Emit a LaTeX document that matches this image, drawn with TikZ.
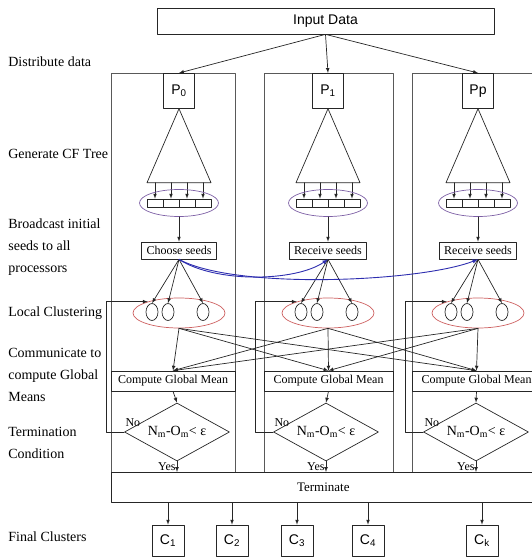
\documentclass[tikz,border=0pt]{standalone}
\usepackage{fontspec}
\setmainfont{Liberation Serif}
\setsansfont{Liberation Sans}
\usetikzlibrary{shapes.geometric, positioning}
\tikzset{>=latex}
\definecolor{treeviolet}{RGB}{125,95,165}
\definecolor{clustred}{RGB}{205,95,95}
\definecolor{seedblue}{RGB}{45,45,175}
\tikzset{
	steplabel/.style={anchor=west, inner sep=0pt, align=left, font=\fontsize{14}{22}\selectfont},
	procbox/.style={draw, anchor=north, minimum width=31, minimum height=35, inner sep=0pt, font=\sffamily\fontsize{14}{16}\selectfont},
	leafcell/.style={draw, minimum width=16, minimum height=8, inner sep=0pt},
	leafset/.style={draw=treeviolet, ellipse, minimum width=79, minimum height=27, inner sep=0pt},
	seedbox/.style={draw, minimum height=17, inner sep=0pt, inner xsep=5pt, font=\fontsize{12}{14}\selectfont},
	clustset/.style={draw=clustred, ellipse, minimum width=92, minimum height=30, inner sep=0pt},
	centroid/.style={draw, ellipse, minimum width=12, minimum height=17, inner sep=0pt},
	meanbox/.style={draw, minimum height=20, inner sep=0pt, font=\fontsize{12}{14}\selectfont},
	testbox/.style={draw, diamond, aspect=1.8, minimum width=105, minimum height=58, inner sep=0pt, font=\fontsize{14}{16}\selectfont},
	flowtext/.style={inner sep=1pt, font=\fontsize{12}{14}\selectfont},
	finalbox/.style={draw, minimum width=32, minimum height=31, inner sep=0pt, font=\sffamily\fontsize{14}{16}\selectfont},
	colline/.style={draw=black!65}
}
\newcommand{\proccol}[6]{%
	% column frame
	\draw[colline] (#2,73) rectangle (#3,472);
	% processor and CF tree
	\node[procbox] (p#1) at (#4,73) {#5};
	\draw (p#1.south) -- ++(-32,74) coordinate (tl#1) -- ++(64,0) coordinate (tr#1) -- cycle;
	\foreach \k in {1,...,4}
	{
		\node[leafcell] (c#1\k) at ({#4-40+16*\k},203) {};
		\draw[->] (c#1\k.north |- tl#1) -- (c#1\k.north);
	}
	\node[leafset] (leaves#1) at (#4,203) {};
	% seeds
	\node[seedbox] (seed#1) at (#4,250.5) {#6};
	\draw[->] (leaves#1.south) -- (seed#1.north);
	% local clusters
	\node[clustset] (clust#1) at (#4,313) {};
	\foreach \k/\dx in {1/-27,2/-11,3/24}
	{
		\node[centroid] (m#1\k) at ({#4+(\dx)},312) {};
		\draw[->] (seed#1.south) -- (m#1\k.north);
	}
	% global mean and test
	\node[meanbox, minimum width={#3-#2}] (mean#1) at ({(#2+#3)/2},381) {Compute Global Mean};
	\node[testbox] (test#1) at ({#4-2},432) {N\textsubscript{m}-O\textsubscript{m}< ε};
	\draw[->] (mean#1.south) -- (test#1.north);
	\node[flowtext, anchor=south west, yshift=4pt] (no#1) at (test#1.west) {No};
	\node[flowtext, anchor=north east] (yes#1) at (test#1.south) {Yes};
	\draw[->] (test#1.west) -- ++(-18,0) |- (clust#1.160);
}

\begin{document}
\begin{tikzpicture}[x=1pt, y=-1pt, line width=0.7pt, draw=black!85, line cap=round, line join=round]
	\useasboundingbox (0,0) rectangle (532,557);
	\clip (0,0) rectangle (532,557);

	% Step Labels
	\node[steplabel] (lDist) at (8,62) {Distribute data};
	\node[steplabel] (lTree) at (8,154) {Generate CF Tree};
	\node[steplabel] (lSeed) at (8,247) {Broadcast initial\\seeds to all\\processors};
	\node[steplabel] (lLocal) at (8,313) {Local Clustering};
	\node[steplabel] (lComm) at (8,375) {Communicate to\\compute Global\\Means};
	\node[steplabel] (lTerm) at (8,443) {Termination\\Condition};
	\node[steplabel] (lFinal) at (8,537) {Final Clusters};

	% Input
	\node[draw, minimum width=337, minimum height=26, inner sep=0pt, font=\sffamily\fontsize{14}{16}\selectfont] (input) at (325.5,21) {Input Data};

	% Processor Columns
	\proccol{1}{111}{235}{179}{P\textsubscript{0}}{Choose seeds}
	\proccol{2}{264}{393}{328}{P\textsubscript{1}}{Receive seeds}
	\proccol{3}{412}{541}{478}{Pp}{Receive seeds}

	\foreach \i in {1,2,3}
		\draw[->] (input.south) -- (p\i.north);

	% Broadcast of Seeds
	\draw[->, seedblue, line width=0.9pt] (seed1.south) .. controls (215,283) and (295,282) .. (seed2.south);
	\draw[->, seedblue, line width=0.9pt] (seed1.south) .. controls (235,290) and (420,282) .. (seed3.south);

	% Exchange for Global Means
	\foreach \a in {1,2,3}
		\foreach \b in {1,2,3}
			\draw[->] (clust\a.south) -- (mean\b.north);

	% Terminate
	\node[draw, fill=white, anchor=north west, minimum width=424, minimum height=30, inner sep=0pt, font=\fontsize{13}{15}\selectfont] (term) at (111,472) {Terminate};
	\foreach \i in {1,2,3}
		\draw[->] (test\i.south) -- (test\i.south |- term.north);

	% Final Clusters
	\foreach \n/\x/\t in {1/168/1, 2/232/2, 3/297/3, 4/368/4, k/482/k}
	{
		\node[finalbox] (fin\n) at (\x,540.5) {C\textsubscript{\t}};
		\draw[->] (fin\n.north |- term.south) -- (fin\n.north);
	}
\end{tikzpicture}
\end{document}
